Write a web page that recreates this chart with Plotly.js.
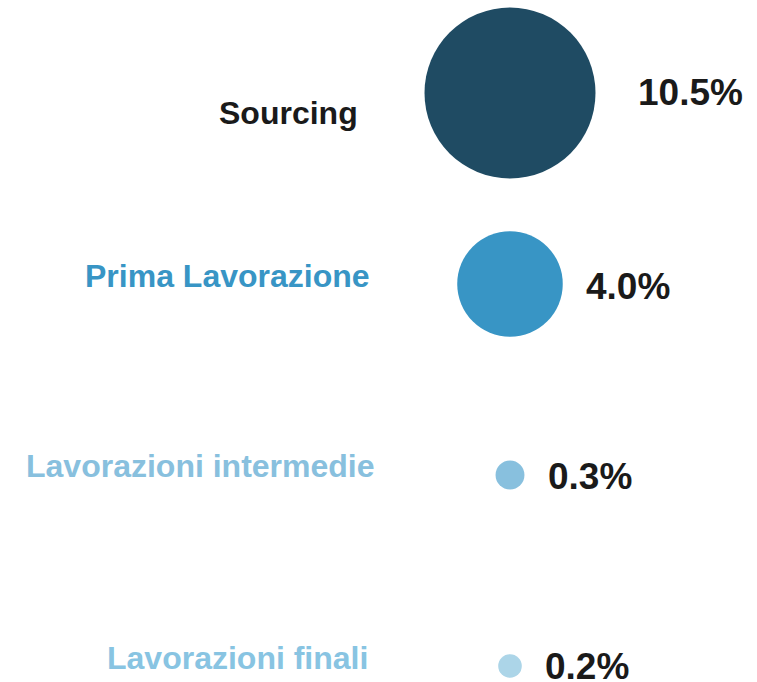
<!DOCTYPE html>
<html>
<head>
<meta charset="utf-8">
<script src="https://cdn.plot.ly/plotly-3.0.1.min.js"></script>
<style>html,body{margin:0;padding:0;background:#fff;}#chart{width:757px;height:682px;}</style>
</head>
<body>
<div id="chart"></div>
<script>
// Data
const categories = ["Sourcing", "Prima Lavorazione", "Lavorazioni intermedie", "Lavorazioni finali"];
const values = [10.5, 4.0, 0.3, 0.2];
const valueLabels = ["10.5%", "4.0%", "0.3%", "0.2%"];

// Styles
const bubbleColors = ["#1f4b63", "#3895c5", "#88c0de", "#acd5e8"];
const labelColors = ["#1a1a1a", "#3895c5", "#88c0de", "#88c4e2"];
const labelRight = [-150, -138, -133, -140];   // right edge of label, px from bubble centre
const labelShiftY = [-20, 8, 9, 8];
const valueGap = [40, 21, 22, 21];
const valueShiftY = [1, -2, -1, 0];
const maxDiam = 171;

const idx = categories.map((_, i) => i);
const vmax = Math.max(...values);
const sizeref = 2 * vmax / (maxDiam * maxDiam);

const trace = {
  type: "scatter",
  mode: "markers",
  x: categories.map(() => 0),
  y: idx,
  text: categories,
  marker: {
    size: values,
    sizemode: "area",
    sizeref: sizeref,
    color: bubbleColors,
    opacity: 1,
    line: {width: 0}
  },
  hoverinfo: "text",
  showlegend: false
};

const annotations = [];
categories.forEach((c, i) => {
  annotations.push({
    x: labelRight[i], y: i, xref: "x", yref: "y",
    text: c, showarrow: false, xanchor: "right", yanchor: "middle",
    yshift: labelShiftY[i],
    font: {family: "Liberation Sans, Arial, sans-serif", size: 32, weight: 700, color: labelColors[i]}
  });
  annotations.push({
    x: 0, y: i, xref: "x", yref: "y",
    text: valueLabels[i], showarrow: false, xanchor: "left", yanchor: "middle",
    xshift: maxDiam / 2 * Math.sqrt(values[i] / vmax) + valueGap[i],
    yshift: valueShiftY[i],
    font: {family: "Liberation Sans, Arial, sans-serif", size: 37, weight: 700, color: "#1a1a1a"}
  });
});

const layout = {
  width: 757, height: 682,
  margin: {l: 0, r: 0, t: 0, b: 0},
  paper_bgcolor: "#ffffff", plot_bgcolor: "#ffffff",
  xaxis: {range: [-510, 247], visible: false, fixedrange: true},
  yaxis: {range: [(682 - 93) / 191, -93 / 191], visible: false, fixedrange: true},
  annotations: annotations,
  showlegend: false
};

Plotly.newPlot("chart", [trace], layout, {displayModeBar: false, staticPlot: true});
</script>
</body>
</html>
